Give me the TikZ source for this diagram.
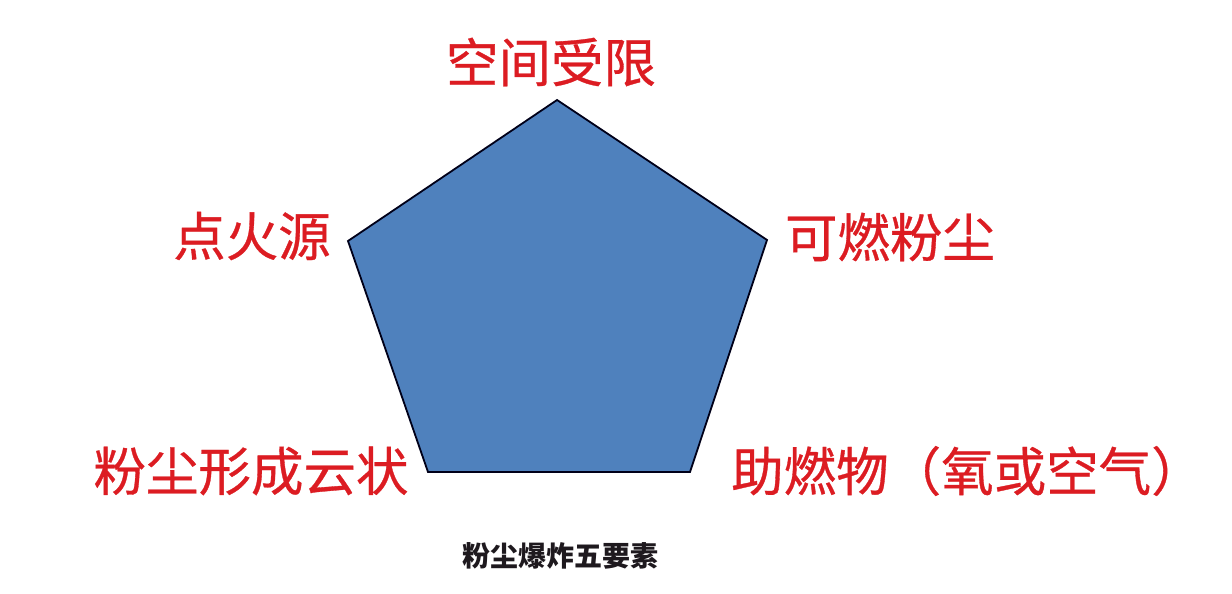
\documentclass[tikz,border=0pt]{standalone}
\usepackage{fontspec}
\setmainfont{Noto Sans CJK SC}
\newfontfamily\cjk{Noto Sans CJK SC}
\newfontfamily\cjkmed[FakeBold=0.6]{Noto Sans CJK SC}
\definecolor{penta}{RGB}{79,129,189}
\definecolor{labelred}{RGB}{220,28,34}
\definecolor{captiondark}{RGB}{30,25,30}
\begin{document}
\begin{tikzpicture}[x=1pt,y=-1pt,
  lbl/.style={text=labelred,font=\cjkmed\fontsize{52.5}{52.5}\selectfont,inner sep=0pt},
  captext/.style={text=captiondark,font=\cjk\bfseries\fontsize{28}{28}\selectfont,inner sep=0pt}]
\useasboundingbox[fill=white] (0,0) rectangle (1232,594);
\coordinate (t) at (557,100);
\coordinate (r) at (767,240);
\coordinate (br) at (690,472);
\coordinate (bl) at (428,472);
\coordinate (l) at (348,241);
\draw[fill=penta,draw=black!90!blue,line width=1.8pt,line join=miter] (t) -- (r) -- (br) -- (bl) -- (l) -- cycle;
\node[lbl] (top) at (551,62) {空间受限};
\node[lbl] (left) at (252,236) {点火源};
\node[lbl] (right) at (890,237) {可燃粉尘};
\node[lbl] (bleft) at (251,471) {粉尘形成云状};
\node[lbl,anchor=west] (bright) at (731,471) {助燃物（氧或空气）};
\node[captext] (caption) at (560,556) {粉尘爆炸五要素};
\end{tikzpicture}
\end{document}
